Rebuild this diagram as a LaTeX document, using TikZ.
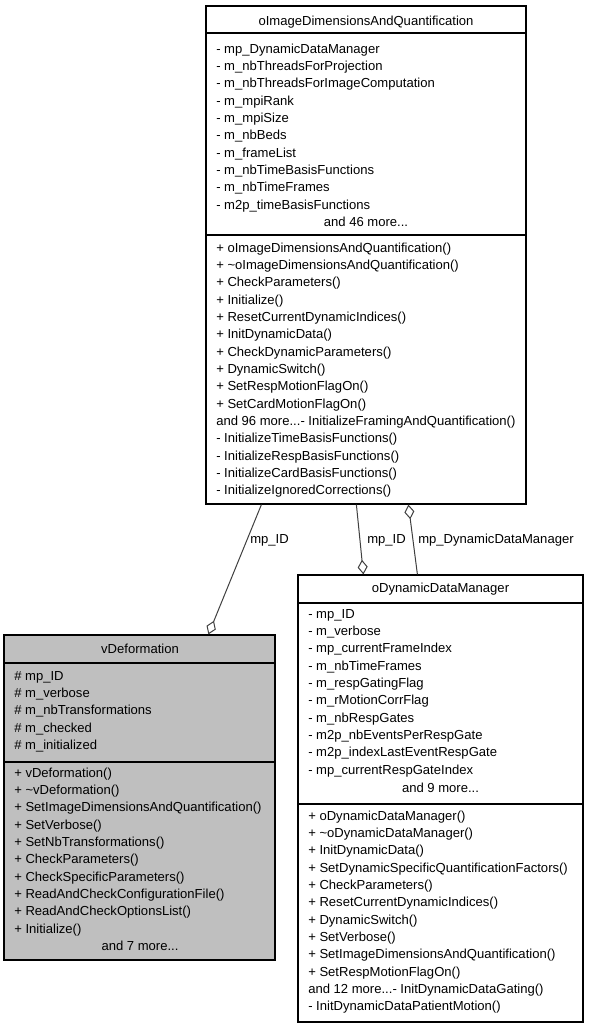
\documentclass[tikz,border=0pt]{standalone}
\usepackage{fontspec}
\setmainfont{Liberation Sans}
\usetikzlibrary{fit,calc,arrows.meta}
\definecolor{boxgray}{HTML}{BFBFBF}
\definecolor{edgecol}{HTML}{404040}
\newcommand\mydots{...}
\tikzset{
  box/.style={draw=black, line width=0.9pt, inner sep=0pt},
  txt/.style={anchor=base west, inner sep=0pt, font=\fontsize{9.8pt}{12pt}\selectfont},
  ctxt/.style={anchor=base, inner sep=0pt, font=\fontsize{9.8pt}{12pt}\selectfont},
  sep/.style={draw=black, line width=0.9pt},
  conn/.style={draw=edgecol, line width=0.75pt},
  agg/.style={-{Diamond[open, length=11pt, width=7.5pt, line width=0.75pt]}},
  aggstart/.style={{Diamond[open, length=11pt, width=7.5pt, line width=0.75pt]}-},
}
\begin{document}
\begin{tikzpicture}[x=0.75pt, y=-0.75pt]
\useasboundingbox (0,0) rectangle (589,1029);
\fill[white] (0,0) rectangle (589,1029);

% ---------- oImageDimensionsAndQuantification ----------
\node[box, fill=white, fit={(206,6) (526,504)}] (top) {};
\draw[sep] (206,33) -- (526,33);
\draw[sep] (206,235) -- (526,235);
\node[ctxt] (topt) at (366,25) {oImageDimensionsAndQuantification};
\foreach \t [count=\i from 0] in {
  - mp\_DynamicDataManager,
  - m\_nbThreadsForProjection,
  - m\_nbThreadsForImageComputation,
  - m\_mpiRank,
  - m\_mpiSize,
  - m\_nbBeds,
  - m\_frameList,
  - m\_nbTimeBasisFunctions,
  - m\_nbTimeFrames,
  - m2p\_timeBasisFunctions}
  \node[txt] (ta\i) at (216,53+\i*17.35) {\t};
\node[ctxt] (tam) at (366,226.5) {and 46 more...};
\foreach \t [count=\i from 0] in {
  + oImageDimensionsAndQuantification(),
  + \textasciitilde oImageDimensionsAndQuantification(),
  + CheckParameters(),
  + Initialize(),
  + ResetCurrentDynamicIndices(),
  + InitDynamicData(),
  + CheckDynamicParameters(),
  + DynamicSwitch(),
  + SetRespMotionFlagOn(),
  + SetCardMotionFlagOn(),
  and 96 more\mydots- InitializeFramingAndQuantification(),
  - InitializeTimeBasisFunctions(),
  - InitializeRespBasisFunctions(),
  - InitializeCardBasisFunctions(),
  - InitializeIgnoredCorrections()}
  \node[txt] (tm\i) at (216,252+\i*17.35) {\t};

% ---------- vDeformation ----------
\node[box, fill=boxgray, fit={(4,635) (275,960)}] (vdef) {};
\draw[sep] (4,663) -- (275,663);
\draw[sep] (4,762) -- (275,762);
\node[ctxt] (vt) at (140,653) {vDeformation};
\foreach \t [count=\i from 0] in {
  \# mp\_ID,
  \# m\_verbose,
  \# m\_nbTransformations,
  \# m\_checked,
  \# m\_initialized}
  \node[txt] (va\i) at (14,680+\i*17.35) {\t};
\foreach \t [count=\i from 0] in {
  + vDeformation(),
  + \textasciitilde vDeformation(),
  + SetImageDimensionsAndQuantification(),
  + SetVerbose(),
  + SetNbTransformations(),
  + CheckParameters(),
  + CheckSpecificParameters(),
  + ReadAndCheckConfigurationFile(),
  + ReadAndCheckOptionsList(),
  + Initialize()}
  \node[txt] (vm\i) at (14,777+\i*17.35) {\t};
\node[ctxt] (vmm) at (140,950.5) {and 7 more...};

% ---------- oDynamicDataManager ----------
\node[box, fill=white, fit={(298,575) (583,1022)}] (dyn) {};
\draw[sep] (298,603) -- (583,603);
\draw[sep] (298,804) -- (583,804);
\node[ctxt] (dt) at (440.5,592) {oDynamicDataManager};
\foreach \t [count=\i from 0] in {
  - mp\_ID,
  - m\_verbose,
  - mp\_currentFrameIndex,
  - m\_nbTimeFrames,
  - m\_respGatingFlag,
  - m\_rMotionCorrFlag,
  - m\_nbRespGates,
  - m2p\_nbEventsPerRespGate,
  - m2p\_indexLastEventRespGate,
  - mp\_currentRespGateIndex}
  \node[txt] (da\i) at (308,618+\i*17.35) {\t};
\node[ctxt] (dam) at (440.5,792) {and 9 more...};
\foreach \t [count=\i from 0] in {
  + oDynamicDataManager(),
  + \textasciitilde oDynamicDataManager(),
  + InitDynamicData(),
  + SetDynamicSpecificQuantificationFactors(),
  + CheckParameters(),
  + ResetCurrentDynamicIndices(),
  + DynamicSwitch(),
  + SetVerbose(),
  + SetImageDimensionsAndQuantification(),
  + SetRespMotionFlagOn(),
  and 12 more\mydots- InitDynamicDataGating(),
  - InitDynamicDataPatientMotion()}
  \node[txt] (dm\i) at (308,820+\i*17.35) {\t};

% ---------- connectors ----------
\draw[conn, agg] ($(top.south west)+(56,0)$) -- ($(vdef.north west)+(205,0)$);
\draw[conn, agg] ($(top.south west)+(151,0)$) -- ($(dyn.north west)+(66,0)$);
\draw[conn, aggstart] ($(top.south west)+(203,0)$) -- ($(dyn.north west)+(120,0)$);

\node[txt] (l1) at (250,543) {mp\_ID};
\node[txt] (l2) at (367,543) {mp\_ID};
\node[txt] (l3) at (418,543) {mp\_DynamicDataManager};
\end{tikzpicture}
\end{document}
